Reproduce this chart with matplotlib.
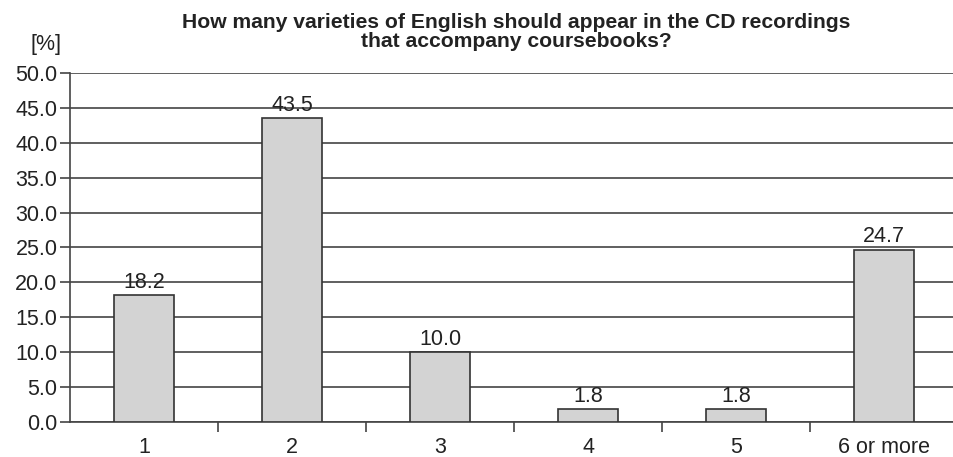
import matplotlib
matplotlib.use("Agg")
from matplotlib import pyplot as plt

plt.rcParams['font.family'] = ['Liberation Sans', 'DejaVu Sans']

categories = ['1', '2', '3', '4', '5', '6 or more']
values = [18.2, 43.5, 10.0, 1.8, 1.8, 24.7]
yticks = [0, 5, 10, 15, 20, 25, 30, 35, 40, 45, 50]

fig = plt.figure(figsize=(9.54, 4.57), dpi=100)
ax = fig.add_axes([0.0734, 0.0766, 0.931, 0.7637])

xs = list(range(len(categories)))
ax.bar(xs, values, width=0.405, color='#d3d3d3', edgecolor='#333333', linewidth=1.2, zorder=3)

for x, v in zip(xs, values):
    ax.text(x, v + 0.3, '%.1f' % v, ha='center', va='bottom', fontsize=15.5, color='#222222', zorder=4)

ax.set_xlim(-0.5, len(categories) - 0.5)
ax.set_ylim(0, 50)
ax.set_yticks(yticks)
ax.set_yticklabels(['%.1f' % t for t in yticks], fontsize=15.5, color='#222222')
ax.yaxis.grid(True, color='#444444', linewidth=1.2, zorder=0)
ax.tick_params(axis='y', length=7, width=1.2, color='#444444', pad=2)

# ticks sit between categories, labels centred under bars
ax.set_xticks([x + 0.5 for x in xs[:-1]])
ax.set_xticklabels([])
ax.set_xticks(xs, minor=True)
ax.set_xticklabels(categories, minor=True, fontsize=15.5, color='#222222')
ax.tick_params(axis='x', which='major', length=7, width=1.2, color='#444444', direction='out')
ax.tick_params(axis='x', which='minor', length=0, pad=11)

for s in ['top', 'right']:
    ax.spines[s].set_visible(False)
for s in ['left', 'bottom']:
    ax.spines[s].set_color('#444444')
    ax.spines[s].set_linewidth(1.2)

fig.text(0.541, 0.972, 'How many varieties of English should appear in the CD recordings\nthat accompany coursebooks?',
         ha='center', va='top', fontsize=15.2, fontweight='bold', color='#222222', linespacing=1.0)
fig.text(0.048, 0.88, '[%]', ha='center', va='bottom', fontsize=15.5, color='#222222')

fig.savefig('out.png', dpi=100)
